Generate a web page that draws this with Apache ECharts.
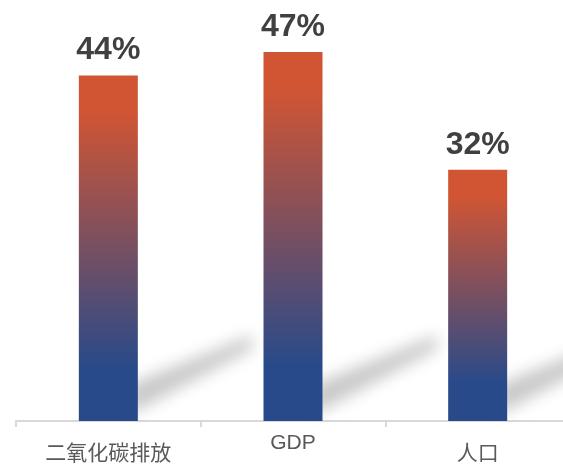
<!DOCTYPE html>
<html>
<head>
<meta charset="utf-8">
<script src="https://cdn.jsdelivr.net/npm/echarts@6/dist/echarts.min.js"></script>
<style>
  html, body { margin: 0; padding: 0; background: #fff; }
  #chart { width: 563px; height: 464px; }
</style>
</head>
<body>
<div id="chart"></div>
<script>
  // data
  const categories = ['二氧化碳排放', 'GDP', '人口'];
  const shares = [44, 47, 32];

  const orange = '#d15533';
  const blue = '#284a8a';

  const chart = echarts.init(document.getElementById('chart'));

  // blurred grey shadow falling to the right of each bar
  // (shape drawn off to the left, only its blurred shadow is shifted back in)
  const shift = 2000;
  const renderShadow = (params, api) => {
    const base = api.coord([api.value(0), 0]);
    const x0 = base[0] + 20 - shift;
    const y0 = base[1];
    return {
      type: 'polygon',
      shape: {
        points: [
          [x0, y0 - 6],
          [x0, y0 - 36],
          [x0 + 124, y0 - 86],
          [x0 + 124, y0 - 72],
        ],
      },
      style: {
        fill: '#000',
        shadowBlur: 16,
        shadowOffsetX: shift,
        shadowColor: 'rgba(200,200,200,1)',
      },
    };
  };

  const option = {
    animation: false,
    grid: {
      left: 16,
      right: -7,
      top: 28.5,
      bottom: 43,
      outerBoundsMode: 'none',
    },
    xAxis: {
      type: 'category',
      data: categories,
      axisLine: { lineStyle: { color: '#d9d9d9', width: 2 } },
      axisTick: { show: true, length: 6, lineStyle: { color: '#d9d9d9', width: 2 } },
      axisLabel: {
        interval: 0,
        margin: 12,
        color: '#595959',
        formatter: (v) => (/^[A-Za-z]+$/.test(v) ? '{en|' + v + '}' : '{cn|' + v + '}'),
        rich: {
          en: {
            fontSize: 21,
            color: '#595959',
            fontFamily: 'Liberation Sans, Arial',
          },
          cn: {
            fontSize: 21,
            color: '#595959',
            fontFamily: 'Noto Sans CJK SC',
            padding: [9, 0, 0, 0],
          },
        },
      },
    },
    yAxis: {
      type: 'value',
      min: 0,
      max: 50,
      show: false,
      splitLine: { show: false },
    },
    series: [
      {
        type: 'custom',
        z: 1,
        silent: true,
        clip: false,
        renderItem: renderShadow,
        data: categories.map((c, i) => [i]),
        encode: { x: 0 },
      },
      {
        type: 'bar',
        z: 2,
        barWidth: 59,
        data: shares,
        itemStyle: {
          color: new echarts.graphic.LinearGradient(0, 0, 0, 1, [
            { offset: 0, color: orange },
            { offset: 0.1, color: orange },
            { offset: 0.85, color: blue },
            { offset: 1, color: blue },
          ]),
        },
        label: {
          show: true,
          position: 'top',
          distance: 9,
          formatter: '{c}%',
          fontSize: 32,
          fontWeight: 'bold',
          color: '#404040',
          fontFamily: 'Liberation Sans, Arial',
        },
      },
    ],
  };

  chart.setOption(option);
</script>
</body>
</html>
